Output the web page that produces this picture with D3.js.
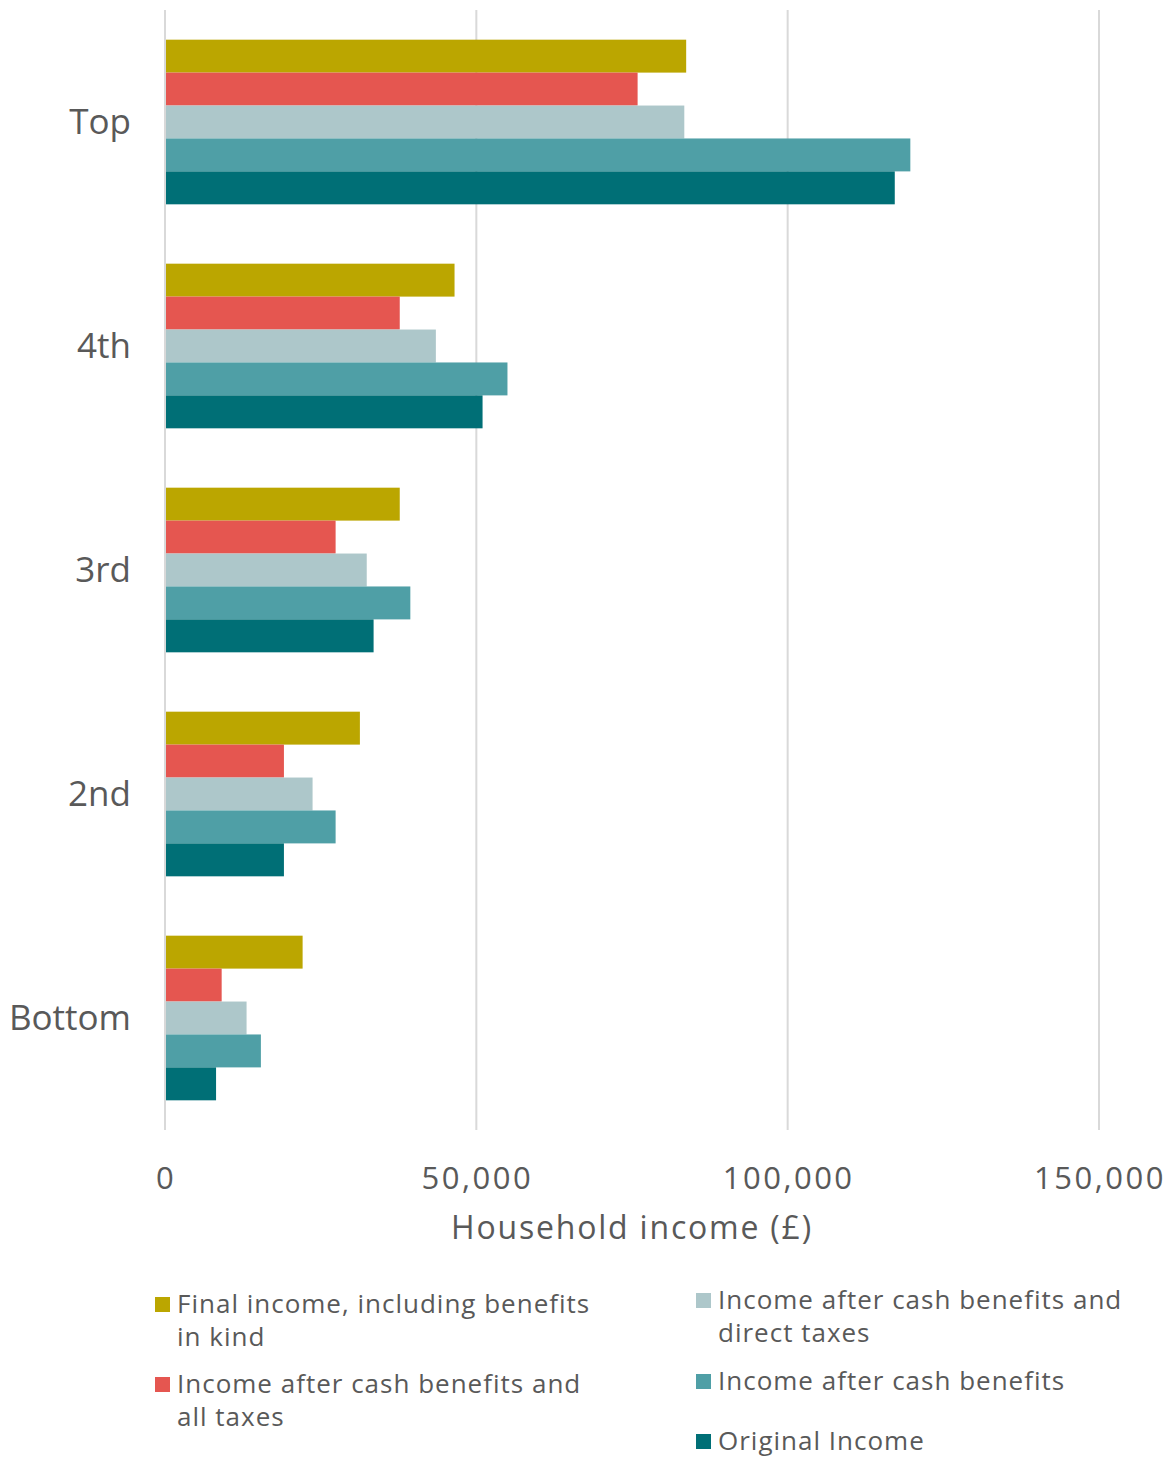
<!DOCTYPE html>
<html>
<head>
<meta charset="utf-8">
<script src="https://cdn.jsdelivr.net/npm/d3@7"></script>
<style>
  body { margin: 0; background: #fff; }
  text { fill: #595959; font-family: "Open Sans", Lato, sans-serif; }
</style>
</head>
<body>
<div id="chart"></div>
<script>
// quintile groups, top to bottom
const groups = ["Top", "4th", "3rd", "2nd", "Bottom"];
const seriesNames = [
  "Final income, including benefits in kind",
  "Income after cash benefits and all taxes",
  "Income after cash benefits and direct taxes",
  "Income after cash benefits",
  "Original Income"
];
const seriesColors = ["#bba600", "#e55650", "#adc7ca", "#4f9fa6", "#006f76"];

const finalIncome = [83700, 46500, 37700, 31300, 22100];
const afterAllTaxes = [75900, 37700, 27400, 19100, 9100];
const afterDirectTaxes = [83400, 43500, 32400, 23700, 13100];
const afterCashBenefits = [119700, 55000, 39400, 27400, 15400];
const originalIncome = [117200, 51000, 33500, 19100, 8200];

const xTicks = [0, 50000, 100000, 150000];

const seriesValues = [finalIncome, afterAllTaxes, afterDirectTaxes, afterCashBenefits, originalIncome];

const w = 1171, h = 1458;
const margin = { top: 10, left: 165, right: 72 };
const plotBottom = 1130;

const svg = d3.select("#chart").append("svg")
  .attr("width", w)
  .attr("height", h);

const xSc = d3.scaleLinear()
  .domain([0, 150000])
  .range([margin.left, w - margin.right]);

const ySc = d3.scaleBand()
  .domain(groups)
  .range([margin.top, plotBottom])
  .paddingInner(0.265)
  .paddingOuter(0.1325);

const ySub = d3.scaleBand()
  .domain(d3.range(seriesNames.length))
  .range([0, ySc.bandwidth()]);

// gridlines
svg.append("g")
  .selectAll("line")
  .data(xTicks)
  .join("line")
    .attr("x1", d => xSc(d))
    .attr("x2", d => xSc(d))
    .attr("y1", margin.top)
    .attr("y2", plotBottom)
    .attr("stroke", "#d9d9d9")
    .attr("stroke-width", 2);

// bars
const rows = groups.map((g, gi) => seriesValues.map((vals, si) => ({ g, si, v: vals[gi] })));

svg.append("g")
  .selectAll("g")
  .data(rows)
  .join("g")
    .attr("transform", (d, i) => `translate(0,${ySc(groups[i])})`)
  .selectAll("rect")
  .data(d => d)
  .join("rect")
    .attr("x", xSc(0) + 1)
    .attr("y", d => ySub(d.si))
    .attr("width", d => xSc(d.v) - xSc(0) - 1)
    .attr("height", ySub.bandwidth())
    .attr("fill", d => seriesColors[d.si]);

// category labels
svg.append("g")
  .selectAll("text")
  .data(groups)
  .join("text")
    .attr("x", 131)
    .attr("y", d => ySc(d) + ySc.bandwidth() / 2)
    .attr("dy", "0.35em")
    .attr("text-anchor", "end")
    .style("font-size", "35px")
    .text(d => d);

// x tick labels
svg.append("g")
  .selectAll("text")
  .data(xTicks)
  .join("text")
    .attr("x", d => xSc(d) + 1)
    .attr("y", 1189)
    .attr("text-anchor", "middle")
    .style("font-size", "31px")
    .style("letter-spacing", "2.5px")
    .text(d => d3.format(",")(d));

svg.append("text")
  .attr("x", (xSc(0) + xSc(150000)) / 2)
  .attr("y", 1239)
  .attr("text-anchor", "middle")
  .style("font-size", "32px")
  .style("letter-spacing", "1.8px")
  .text("Household income (£)");

// legend
const legendItems = [
  { si: 0, x: 155, y: 1313, lines: ["Final income, including benefits", "in kind"] },
  { si: 1, x: 155, y: 1393, lines: ["Income after cash benefits and", "all taxes"] },
  { si: 2, x: 696, y: 1309, lines: ["Income after cash benefits and", "direct taxes"] },
  { si: 3, x: 696, y: 1390, lines: ["Income after cash benefits"] },
  { si: 4, x: 696, y: 1450, lines: ["Original Income"] }
];

const legend = svg.append("g")
  .selectAll("g")
  .data(legendItems)
  .join("g")
    .attr("transform", d => `translate(${d.x},${d.y})`);

legend.append("rect")
  .attr("x", 0)
  .attr("y", -16)
  .attr("width", 15)
  .attr("height", 15)
  .attr("fill", d => seriesColors[d.si]);

legend.append("text")
  .style("font-size", "26px")
  .style("letter-spacing", "1px")
  .selectAll("tspan")
  .data(d => d.lines)
  .join("tspan")
    .attr("x", 22)
    .attr("y", (d, i) => i * 33)
    .text(d => d);
</script>
</body>
</html>
